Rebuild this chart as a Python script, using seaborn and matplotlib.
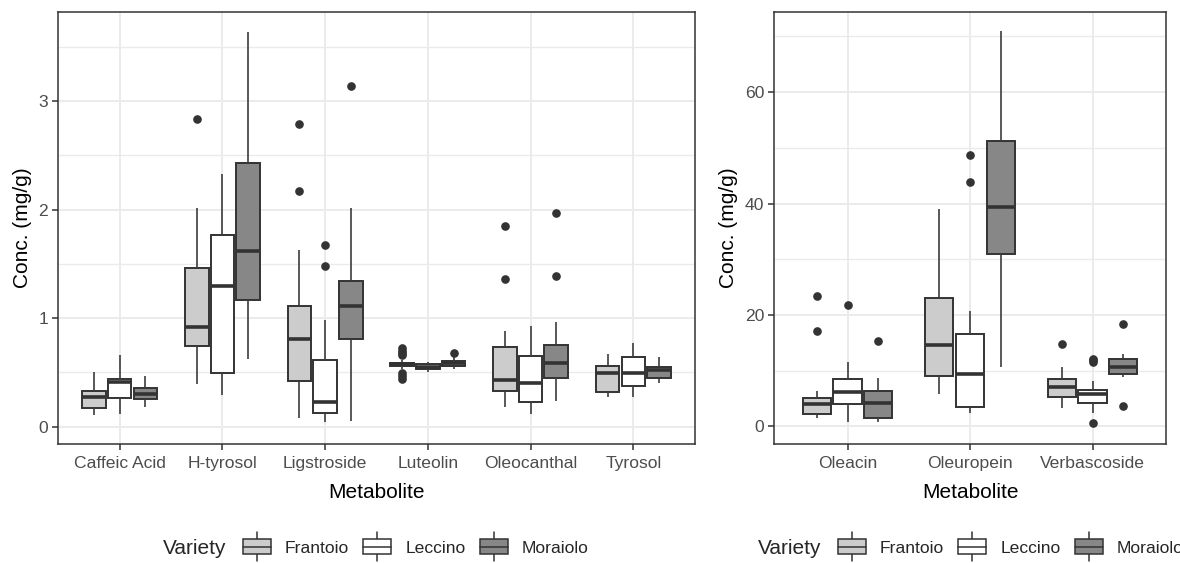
import matplotlib
matplotlib.use("Agg")
import matplotlib.pyplot as plt
from matplotlib.legend_handler import HandlerBase
from matplotlib.patches import Rectangle
from matplotlib.lines import Line2D
from matplotlib.ticker import MultipleLocator
import pandas as pd
import seaborn as sns

VARIETIES = ["Frantoio", "Leccino", "Moraiolo"]
VARIETY_FILLS = {"Frantoio": "#CCCCCC", "Leccino": "#FFFFFF", "Moraiolo": "#878787"}

# Minor phenolics (mg/g): rows follow METABOLITES_MINOR, columns follow VARIETIES
METABOLITES_MINOR = ["Caffeic Acid", "H-tyrosol", "Ligstroside", "Luteolin",
                     "Oleocanthal", "Tyrosol"]
minor_whisker_low = [
    [0.11, 0.12, 0.18],
    [0.39, 0.29, 0.62],
    [0.08, 0.04, 0.05],
    [0.535, 0.50, 0.535],
    [0.185, 0.12, 0.24],
    [0.27, 0.27, 0.40],
]
minor_q1 = [
    [0.17, 0.26, 0.25],
    [0.74, 0.49, 1.165],
    [0.425, 0.125, 0.81],
    [0.557, 0.53, 0.56],
    [0.33, 0.23, 0.445],
    [0.315, 0.37, 0.445],
]
minor_median = [
    [0.27, 0.41, 0.30],
    [0.92, 1.30, 1.62],
    [0.81, 0.23, 1.11],
    [0.573, 0.55, 0.585],
    [0.43, 0.40, 0.59],
    [0.49, 0.49, 0.52],
]
minor_q3 = [
    [0.33, 0.44, 0.36],
    [1.46, 1.77, 2.43],
    [1.11, 0.61, 1.34],
    [0.587, 0.573, 0.605],
    [0.735, 0.65, 0.75],
    [0.56, 0.64, 0.545],
]
minor_whisker_high = [
    [0.50, 0.66, 0.47],
    [2.01, 2.33, 3.64],
    [1.63, 0.98, 2.01],
    [0.61, 0.60, 0.64],
    [0.88, 0.93, 0.96],
    [0.67, 0.775, 0.64],
]
minor_outliers = {
    ("H-tyrosol", "Frantoio"): [2.83],
    ("Ligstroside", "Frantoio"): [2.17, 2.79],
    ("Ligstroside", "Leccino"): [1.48, 1.67],
    ("Ligstroside", "Moraiolo"): [3.14],
    ("Luteolin", "Frantoio"): [0.44, 0.47, 0.49, 0.66, 0.68, 0.70, 0.72],
    ("Luteolin", "Moraiolo"): [0.68],
    ("Oleocanthal", "Frantoio"): [1.36, 1.85],
    ("Oleocanthal", "Moraiolo"): [1.39, 1.97],
}

# Major secoiridoids (mg/g)
METABOLITES_MAJOR = ["Oleacin", "Oleuropein", "Verbascoside"]
major_whisker_low = [[1.5, 0.7, 0.7], [5.7, 2.3, 10.65], [3.35, 2.45, 8.85]]
major_q1 = [[2.15, 3.95, 1.55], [9.0, 3.5, 31.0], [5.2, 4.15, 9.3]]
major_median = [[3.9, 6.2, 4.25], [14.6, 9.3, 39.3], [7.0, 5.75, 10.65]]
major_q3 = [[5.0, 8.4, 6.3], [23.1, 16.5, 51.2], [8.4, 6.5, 12.15]]
major_whisker_high = [[6.3, 11.6, 8.7], [39.0, 20.7, 71.0], [10.6, 8.15, 12.9]]
major_outliers = {
    ("Oleacin", "Frantoio"): [17.1, 23.4],
    ("Oleacin", "Leccino"): [21.8],
    ("Oleacin", "Moraiolo"): [15.3],
    ("Oleuropein", "Leccino"): [43.9, 48.8],
    ("Verbascoside", "Frantoio"): [14.7],
    ("Verbascoside", "Leccino"): [0.5, 11.6, 11.8, 12.0],
    ("Verbascoside", "Moraiolo"): [3.6, 18.4],
}

EDGE = "#333333"


def observations(lo, q1, med, q3, hi, extra):
    """Sample vector (length 4k+1) whose quartiles, whiskers and fliers
    reproduce the given box summary."""
    lows = sorted(v for v in extra if v < q1)
    highs = sorted(v for v in extra if v > q3)
    k = max(len(lows), len(highs)) + 1
    return (lows + [lo] * (k - len(lows)) + [q1] * k + [med] * k
            + [q3] + [hi] * (k - len(highs)) + highs)


def long_table(metabolites, lo, q1, med, q3, hi, outliers):
    rows = []
    for i, m in enumerate(metabolites):
        for j, v in enumerate(VARIETIES):
            vals = observations(lo[i][j], q1[i][j], med[i][j], q3[i][j], hi[i][j],
                                outliers.get((m, v), []))
            rows += [(m, v, x) for x in vals]
    return pd.DataFrame(rows, columns=["Metabolite", "Variety", "Conc"])


class BoxKeyHandler(HandlerBase):
    def create_artists(self, legend, orig_handle, xdescent, ydescent,
                       width, height, fontsize, trans):
        x0 = -xdescent
        cx = x0 + width / 2
        cy = height / 2 - ydescent
        half, stub = 5.4, 10.4
        kw = dict(color=EDGE, lw=1.1, transform=trans)
        w_up = Line2D([cx, cx], [cy + half, cy + stub], **kw)
        w_dn = Line2D([cx, cx], [cy - half, cy - stub], **kw)
        box = Rectangle((x0, cy - half), width, 2 * half,
                        facecolor=orig_handle.get_facecolor(), edgecolor=EDGE,
                        lw=1.1, transform=trans)
        mid = Line2D([x0, x0 + width], [cy, cy], **kw)
        return [w_up, w_dn, box, mid]


sns.set_style("white")
plt.rcParams["font.family"] = ["Liberation Sans", "DejaVu Sans"]

W, H = 1180, 563
fig = plt.figure(figsize=(W / 100, H / 100), dpi=100)
ax1 = fig.add_axes([58 / W, 119 / H, 637 / W, 432 / H])
ax2 = fig.add_axes([774 / W, 119 / H, 392 / W, 432 / H])


def draw_panel(ax, df, order, ylim, major, minor):
    sns.boxplot(
        data=df, x="Metabolite", y="Conc", hue="Variety",
        order=order, hue_order=VARIETIES, palette=VARIETY_FILLS,
        saturation=1, width=0.75, gap=0.08, linecolor=EDGE, linewidth=1.4,
        showcaps=False, fliersize=5.2,
        whiskerprops=dict(color="#3c3c3c", linewidth=1.2),
        medianprops=dict(color=EDGE, linewidth=2.6),
        flierprops=dict(marker="o", markerfacecolor=EDGE, markeredgecolor=EDGE),
        legend=False, ax=ax,
    )
    ax.set_xlim(-0.6, len(order) - 0.4)
    ax.set_ylim(*ylim)
    ax.yaxis.set_major_locator(MultipleLocator(major))
    ax.yaxis.set_minor_locator(MultipleLocator(minor))
    ax.set_axisbelow(True)
    ax.grid(which="major", color="#EBEBEB", linewidth=1.4)
    ax.grid(which="minor", axis="y", color="#EBEBEB", linewidth=1.0)
    for s in ax.spines.values():
        s.set_visible(True)
        s.set_color(EDGE)
        s.set_linewidth(1.1)
    ax.tick_params(which="major", direction="out", length=4, width=1.1,
                   color=EDGE, labelcolor="#4D4D4D", labelsize=12.6, pad=3,
                   left=True, bottom=True)
    ax.tick_params(axis="x", which="major", pad=4.5)
    ax.tick_params(which="minor", length=0)
    ax.set_xlabel("Metabolite", fontsize=15, color="black", labelpad=8.5)
    ax.set_ylabel("Conc. (mg/g)", fontsize=15, color="black", labelpad=5)


df_minor = long_table(METABOLITES_MINOR, minor_whisker_low, minor_q1, minor_median,
                      minor_q3, minor_whisker_high, minor_outliers)
df_major = long_table(METABOLITES_MAJOR, major_whisker_low, major_q1, major_median,
                      major_q3, major_whisker_high, major_outliers)

draw_panel(ax1, df_minor, METABOLITES_MINOR, (-0.16, 3.82), 1, 0.5)
draw_panel(ax2, df_major, METABOLITES_MAJOR, (-3.2, 74.4), 20, 10)

# Bottom legends, one under each panel
key_handles = [Rectangle((0, 0), 1, 1, facecolor=VARIETY_FILLS[v]) for v in VARIETIES]
legend_y = (H - 548) / H
for title_x, key_x in [(163, 243), (758, 838)]:
    fig.text(title_x / W, legend_y, "Variety", fontsize=15, ha="left", va="center")
    fig.legend(key_handles, VARIETIES, handler_map={Rectangle: BoxKeyHandler()},
               loc="center left", bbox_to_anchor=(key_x / W, legend_y),
               ncol=3, frameon=False, fontsize=12.6, handlelength=1.6,
               handletextpad=0.8, columnspacing=0.8, borderpad=0,
               borderaxespad=0)

fig.savefig("out.png", dpi=100)
